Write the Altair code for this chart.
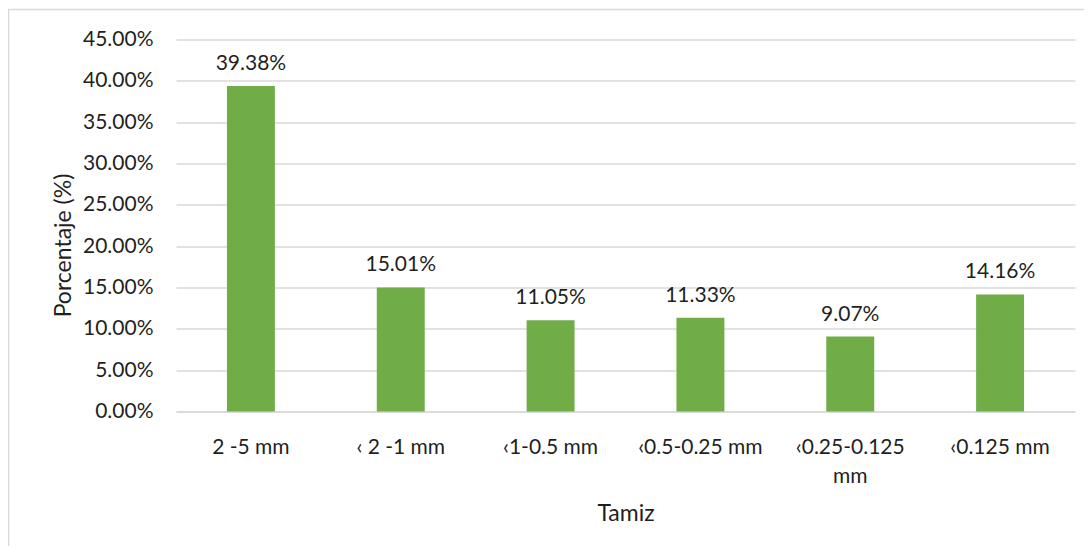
import altair as alt
import pandas as pd

categories = ["2 -5 mm", "‹ 2 -1 mm", "‹1-0.5 mm", "‹0.5-0.25 mm", "‹0.25-0.125 mm", "‹0.125 mm"]
values = [39.38, 15.01, 11.05, 11.33, 9.07, 14.16]
y_ticks = [0, 5, 10, 15, 20, 25, 30, 35, 40, 45]

df = pd.DataFrame({"Tamiz": categories, "Porcentaje": values})
df["label"] = [f"{v:.2f}%" for v in values]

FONT = "Lato"
TXT = "#1f1f1f"
PLOT_L, PLOT_T = 176, 39.5
W, H = 899, 372

x_enc = alt.X(
    "Tamiz:N",
    sort=categories,
    scale=alt.Scale(paddingInner=0.68, paddingOuter=0.34),
    axis=alt.Axis(
        title="Tamiz",
        labelAngle=0,
        labelFont=FONT,
        labelFontSize=21,
        labelColor=TXT,
        labelPadding=25,
        labelLimit=400,
        labelLineHeight=29,
        labelExpr="datum.label == '‹0.25-0.125 mm' ? ['‹0.25-0.125', 'mm'] : datum.label",
        ticks=False,
        domainColor="#d9d9d9",
        domainWidth=1.5,
        titleFont=FONT,
        titleFontSize=23,
        titleFontWeight="normal",
        titleColor=TXT,
        titleY=102,
        titleBaseline="middle",
    ),
)

y_enc = alt.Y(
    "Porcentaje:Q",
    scale=alt.Scale(domain=[0, 45], nice=False),
    axis=alt.Axis(
        title="Porcentaje (%)",
        values=y_ticks,
        labelExpr="format(datum.value, '.2f') + '%'",
        labelFont=FONT,
        labelFontSize=21,
        labelColor=TXT,
        labelPadding=23,
        ticks=False,
        domain=False,
        grid=True,
        gridColor="#d9d9d9",
        gridWidth=1.5,
        titleFont=FONT,
        titleFontSize=23,
        titleFontWeight="normal",
        titleColor=TXT,
        titleAngle=-90,
        titleX=63 - PLOT_L,
        titleY=245 - PLOT_T,
        titleBaseline="middle",
        titleAlign="center",
    ),
)

bars = alt.Chart(df).mark_bar(color="#70AD47").encode(x=x_enc, y=y_enc)

labels = alt.Chart(df).mark_text(
    font=FONT, fontSize=21, color=TXT, dy=-16, baseline="alphabetic"
).encode(
    x=alt.X("Tamiz:N", sort=categories),
    y=alt.Y("Porcentaje:Q"),
    text="label:N",
)

border = alt.Chart(alt.Data(values=[{"a": 1}])).mark_rect(
    fill=None, stroke="#d9d9d9", strokeWidth=1.5
).encode(
    x=alt.value(8.5 - PLOT_L),
    x2=alt.value(1110 - PLOT_L),
    y=alt.value(9.5 - PLOT_T),
    y2=alt.value(620 - PLOT_T),
)

chart = alt.layer(border, bars, labels).properties(
    width=W,
    height=H,
    autosize=alt.AutoSizeParams(type="none"),
    padding={"left": PLOT_L - 8, "top": PLOT_T - 8, "right": 9, "bottom": 134},
    background="white",
).configure_view(stroke=None)

chart.save("out.html", embed_options={"renderer": "svg", "actions": False})
